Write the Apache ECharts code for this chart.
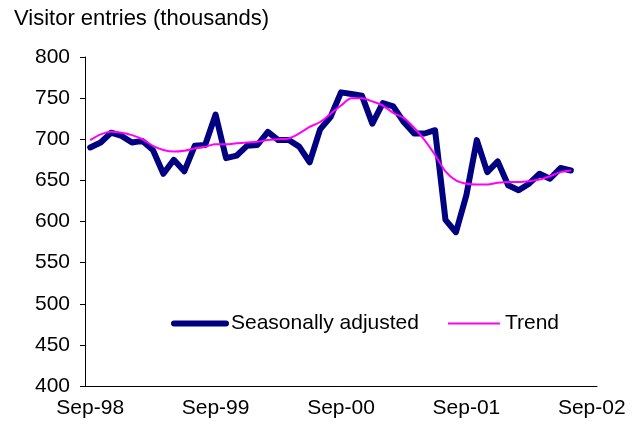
<!DOCTYPE html>
<html>
<head>
<meta charset="utf-8">
<script src="https://cdn.jsdelivr.net/npm/echarts@6/dist/echarts.min.js"></script>
<style>
  html, body { margin: 0; padding: 0; background: #fff; }
</style>
</head>
<body>
<div id="visitorChart" style="width:641px;height:428px;"></div>
<script>
// monthly categories, Sep-98 .. Sep-02
var months = [
  "Sep-98", "Oct-98", "Nov-98", "Dec-98", "Jan-99", "Feb-99", "Mar-99", "Apr-99", "May-99", "Jun-99", "Jul-99", "Aug-99",
  "Sep-99", "Oct-99", "Nov-99", "Dec-99", "Jan-00", "Feb-00", "Mar-00", "Apr-00", "May-00", "Jun-00", "Jul-00", "Aug-00",
  "Sep-00", "Oct-00", "Nov-00", "Dec-00", "Jan-01", "Feb-01", "Mar-01", "Apr-01", "May-01", "Jun-01", "Jul-01", "Aug-01",
  "Sep-01", "Oct-01", "Nov-01", "Dec-01", "Jan-02", "Feb-02", "Mar-02", "Apr-02", "May-02", "Jun-02", "Jul-02", "Aug-02",
  "Sep-02"
];

var seasAdj = [
  690, 696, 708, 704, 696, 698, 687, 658, 675, 661, 692, 693,
  730, 677, 680, 692, 693, 709, 699, 699, 691, 672, 712, 727,
  757, 755, 753, 719, 744, 740, 721, 707, 707, 711, 602, 587,
  632, 699, 660, 673, 644, 638, 646, 658, 652, 665, 662
];

var trend = [
  699, 706, 709, 708, 705, 700, 692, 687, 685, 686, 689, 691,
  694, 694, 695, 696, 697, 699, 700, 701, 707, 715, 721, 731,
  741, 750, 750, 746, 741, 732, 726, 714, 699, 681, 661, 650,
  646, 645, 645, 647, 648, 648, 649, 651, 655, 660, 662
];

var yTicks = { min: 400, max: 800, step: 50 };

var chart = echarts.init(document.getElementById("visitorChart"));
var font = "'Liberation Sans', Arial, sans-serif";

chart.setOption({
  animation: false,
  backgroundColor: "#fff",
  title: {
    text: "Visitor entries (thousands)",
    left: 14,
    top: 8,
    padding: 0,
    textStyle: { color: "#000", fontFamily: font, fontSize: 22, fontWeight: "normal" }
  },
  legend: {
    left: 166,
    top: 308,
    itemWidth: 52,
    itemHeight: 20,
    itemGap: 28,
    textStyle: { color: "#000", fontFamily: font, fontSize: 21 },
    // hide the little circle, keep only the line sample
    itemStyle: { opacity: 0 },
    data: [
      { name: "Seasonally adjusted", lineStyle: { color: "#000080", width: 6 } },
      { name: "Trend", lineStyle: { color: "#ff00ff", width: 2 } }
    ]
  },
  grid: { left: 85, top: 57, right: 44, bottom: 42 },
  xAxis: [
    {
      type: "category",
      data: months,
      boundaryGap: true,
      axisLine: { lineStyle: { color: "#000", width: 1 } },
      // quarter ticks
      axisTick: {
        interval: function (i) { return i % 3 === 0; },
        length: 4,
        lineStyle: { color: "#000" }
      },
      axisLabel: {
        interval: function (i) { return i % 12 === 0; },
        color: "#000",
        fontFamily: font,
        fontSize: 21,
        margin: 12
      },
      splitLine: { show: false }
    },
    {
      // longer ticks at each September
      type: "category",
      data: months,
      position: "bottom",
      boundaryGap: true,
      axisLine: { show: false },
      axisTick: {
        interval: function (i) { return i % 12 === 0; },
        length: 7,
        lineStyle: { color: "#000" }
      },
      axisLabel: { show: false },
      splitLine: { show: false }
    }
  ],
  yAxis: {
    type: "value",
    min: yTicks.min,
    max: yTicks.max,
    interval: yTicks.step,
    axisLine: { show: true, lineStyle: { color: "#000", width: 1 } },
    axisTick: { show: true, length: 5, lineStyle: { color: "#000" } },
    axisLabel: { color: "#000", fontFamily: font, fontSize: 21, margin: 15 },
    splitLine: { show: false }
  },
  series: [
    {
      name: "Seasonally adjusted",
      type: "line",
      data: seasAdj,
      symbol: "none",
      color: "#000080",
      lineStyle: { color: "#000080", width: 6, join: "round", cap: "round" }
    },
    {
      name: "Trend",
      type: "line",
      data: trend,
      symbol: "none",
      smooth: 0.3,
      color: "#ff00ff",
      lineStyle: { color: "#ff00ff", width: 2 }
    }
  ]
});
</script>
</body>
</html>
